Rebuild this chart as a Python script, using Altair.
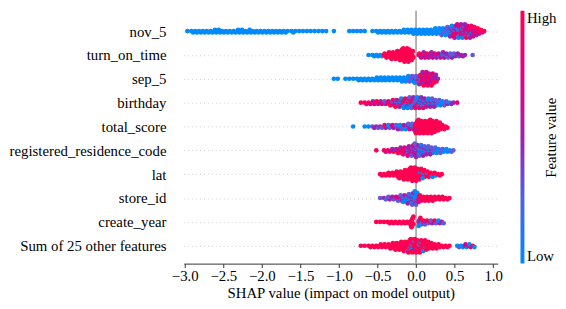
import json
import altair as alt
import pandas as pd

FEATURES = ["nov_5", "turn_on_time", "sep_5", "birthday", "total_score",
            "registered_residence_code", "lat", "store_id", "create_year",
            "Sum of 25 other features"]

BIN = 0.05
# SHAP-value of the first histogram bin of each feature row
STARTS = [-2.95, -0.60, -1.05, -0.70, -0.80, -0.50, -0.45, -0.45, -0.50, -0.70]

# number of dots in each 0.05-wide SHAP bin (swarm thickness)
COUNTS = [
    [1, 2, 2, 2, 2, 2, 2, 3, 3, 2, 2, 2, 2, 3, 3, 2, 3, 2, 2, 2, 2, 2, 2, 2, 2, 2, 1, 2, 1,
     1, 1, 1, 1, 1, 1, 1, 1, 0, 1, 0, 0, 0, 1, 1, 1, 1, 1, 0, 1,
     2, 2, 2, 2, 2, 2, 2, 3, 3, 4, 4, 4, 4, 4, 4, 5, 5, 6, 7, 9, 10, 11, 11, 11, 10, 8, 6, 3, 1],
    [1, 2, 2, 2, 4, 5, 6, 7, 9, 11, 11, 8, 0, 4, 5, 4, 5, 4, 4, 5, 4, 4, 3, 3, 2, 1, 0, 1],
    [1, 1, 0, 1, 1, 1, 2, 2, 2, 2, 2, 3, 3, 3, 3, 3, 3, 4, 4, 5, 5, 6, 8, 11, 11, 10, 7, 1],
    [1, 2, 2, 3, 3, 3, 3, 4, 5, 6, 7, 8, 9, 9, 9, 9, 8, 7, 7, 6, 5, 4, 3, 2, 1, 1],
    [1, 0, 0, 1, 1, 2, 2, 2, 3, 3, 3, 4, 4, 4, 5, 5, 10, 11, 10, 10, 11, 9, 7, 4, 2],
    [1, 0, 2, 2, 3, 4, 5, 6, 8, 9, 11, 9, 8, 7, 6, 5, 4, 3, 3, 2, 1],
    [2, 2, 3, 3, 5, 6, 8, 9, 11, 11, 9, 7, 5, 4, 3, 2, 1],
    [1, 2, 3, 3, 4, 5, 6, 8, 10, 11, 6, 4, 4, 4, 3, 3, 3, 2, 1],
    [1, 1, 1, 2, 2, 2, 2, 2, 2, 9, 0, 7, 4, 3, 3, 3, 3, 2],
    [1, 1, 2, 2, 2, 3, 3, 4, 5, 6, 7, 8, 10, 11, 11, 10, 9, 7, 5, 4, 3, 2, 2, 1, 0, 2, 2, 3, 3, 2],
]

# feature-value colour mix of the dots in each bin (b=low ... r=high)
COLORS = [
    ["b"] * 66 + ["bv", "vb", "vpb", "pmvr", "mpvrb", "pmrvb", "mrpv", "rpmb", "rmp", "mrp", "rm", "r", "r"],
    ["b", "b", "b", "b", "r", "r", "r", "r", "r", "r", "r", "r", "r", "mpr", "mpr", "pmr", "pm",
     "pvm", "pvm", "pvbm", "vbp", "pbv", "bpv", "pv", "p", "p", "p", "v"],
    ["b"] * 19 + ["bv", "vb", "pvb", "rpv", "rpm", "rmp", "rpm", "pr", "p"],
    ["r", "rm", "rm", "rmp", "rp", "rmp", "rpv", "rpm", "rpvm", "prvb", "rpbm", "pvrb", "vprb",
     "pbrv", "bpvr", "pvbm", "vbpr", "bvp", "vbp", "bvp", "vb", "bv", "vp", "bp", "p", "m"],
    ["b", "b", "b", "b", "bv", "vp", "pv", "pvm", "vpr", "pvb", "vpm", "pbv", "vpb", "bvp", "vbpm",
     "pvb", "rrrp", "r", "r", "r", "r", "r", "r", "r", "r"],
    ["r", "r", "rm", "rm", "mrp", "rmp", "mpr", "pmr", "pmv", "pvm", "ppvm", "pvb", "vpb", "vbp",
     "bvp", "vb", "bv", "vb", "b", "bv", "v"],
    ["r"] * 10 + ["rrrrb", "rrb", "rrv", "rb", "rbr", "r", "r"],
    ["v", "pv", "vp", "pv", "vpm", "pvm", "vpb", "vpb", "vbp", "bvbp", "rrm", "r", "r", "r", "r",
     "r", "r", "r", "r"],
    ["r"] * 11 + ["pbrv", "vpr", "pvr", "rpv", "pvr", "vpb", "pv"],
    ["r"] * 12 + ["rrrv", "rrb", "rrrp", "rrbr", "rrrb"] + ["r"] * 8 + ["bv", "bbr", "rbm", "mrb", "rb"],
]
CODE = {"b": 0.0, "v": 0.3, "p": 0.5, "m": 0.75, "r": 1.0}

X_TICKS = [-3.0, -2.5, -2.0, -1.5, -1.0, -0.5, 0.0, 0.5, 1.0]
CMAP_POS = [0.0, 0.25, 0.5, 0.75, 1.0]
CMAP = ["#008afa", "#4b63e3", "#9c22ac", "#e00086", "#ff0052"]

# ---- beeswarm layout (stack the dots of each bin symmetrically) ----
W, H = 318, 256
XDOM = [-3.013, 1.06]
YDOM = [-0.85, 9.75]
STEP = 0.056  # vertical spacing between stacked dots, in row units

recs = []
for r, feat in enumerate(FEATURES):
    cols = COLORS[r]
    for i, n in enumerate(COUNTS[r]):
        cx = STARTS[r] + i * BIN
        codes = cols[min(i, len(cols) - 1)]
        for k in range(n):
            layer = (k + 1) // 2
            sign = 1 if k % 2 else -1
            dx = ((k * 3) % 5 - 2) * 0.008
            recs.append({"shap": cx + dx, "y": r + sign * layer * STEP,
                         "fv": CODE[codes[k % len(codes)]], "feature": feat})
df = pd.DataFrame(recs)

FONT = "Liberation Serif"

x_enc = alt.X(
    "shap:Q", scale=alt.Scale(domain=XDOM, nice=False, zero=False),
    axis=alt.Axis(values=X_TICKS, format=".1f", title="SHAP value (impact on model output)",
                  grid=False, tickSize=4, labelPadding=1, titlePadding=2, labelOverlap=False,
                  domainColor="#333333", tickColor="#333333",
                  labelFont=FONT, titleFont=FONT, labelFontSize=15, titleFontSize=15,
                  labelColor="#000000", titleColor="#000000", titleFontWeight="normal"),
)
y_enc = alt.Y(
    "y:Q", scale=alt.Scale(domain=YDOM, reverse=True, nice=False, zero=False),
    axis=alt.Axis(values=list(range(len(FEATURES))),
                  labelExpr=json.dumps(FEATURES) + "[datum.value]",
                  title=None, ticks=False, domain=False, grid=True, labelOverlap=False,
                  gridDash=[1, 3], gridColor="#cccccc", labelPadding=18,
                  labelFont=FONT, labelFontSize=15, labelColor="#000000"),
)

zero = alt.Chart(pd.DataFrame({"shap": [0.0]})).mark_rule(color="#999999", strokeWidth=1.5).encode(
    x=x_enc
)

points = alt.Chart(df).mark_circle(size=22, opacity=1).encode(
    x=x_enc,
    y=y_enc,
    color=alt.Color("fv:Q", scale=alt.Scale(domain=CMAP_POS, range=CMAP), legend=None),
)

main = alt.layer(zero, points).properties(width=W, height=H)

grad = alt.LinearGradient(
    gradient="linear",
    stops=[alt.GradientStop(color=c, offset=o) for c, o in zip(CMAP, CMAP_POS)],
    x1=0, x2=0, y1=1, y2=0,
)

cbar = alt.Chart(pd.DataFrame({"lo": [0.0], "hi": [1.0]})).mark_rect(fill=grad, stroke=None).encode(
    y=alt.Y("lo:Q", scale=alt.Scale(domain=[0, 1], nice=False),
            axis=alt.Axis(orient="right", values=[0, 1],
                          labelExpr="datum.value > 0.5 ? 'High' : 'Low'",
                          labelFlush=True, ticks=False, domain=False, grid=False, labelPadding=2,
                          labelFont=FONT, labelFontSize=15, labelColor="#000000",
                          title="Feature value", titleFont=FONT, titleFontSize=15,
                          titleColor="#000000", titleFontWeight="normal",
                          titleAngle=270, titleX=26, titleY=H / 2,
                          titleAlign="center", titleBaseline="middle")),
    y2="hi:Q",
    x=alt.value(0),
    x2=alt.value(4),
).properties(width=4, height=H)

chart = alt.hconcat(main, cbar, spacing=18).properties(
    padding={"left": 0, "top": 0, "right": 0, "bottom": 0}
).configure(font=FONT).configure_view(stroke=None)

chart.save("out.html", embed_options={"renderer": "svg", "actions": False})
